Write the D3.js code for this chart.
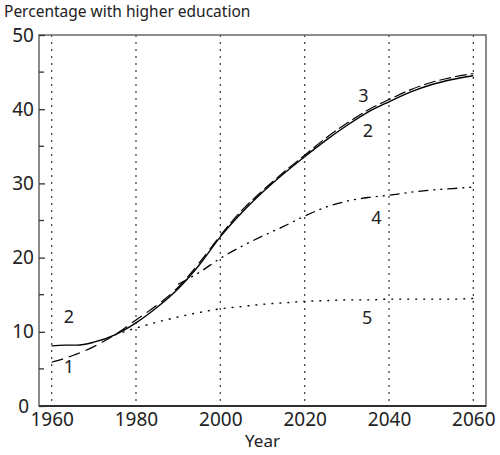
<!DOCTYPE html>
<html><head><meta charset="utf-8">
<script src="https://cdn.jsdelivr.net/npm/d3@7"></script>
<style>body{margin:0;background:#fff;} text{font-family:"Noto Sans",sans-serif;fill:#222;}</style>
</head><body>
<svg id="c" width="500" height="455"></svg>
<script>
const title = "Percentage with higher education";
const xLabel = "Year";
const xTicks = [1960,1980,2000,2020,2040,2060];
const yTicks = [0,10,20,30,40,50];
const yMinor = [5,15,25,35,45];

const years1 = [1960,1965,1970,1975,1980,1985,1990,1995,2000];
const s1 = [5.9,6.8,8.0,9.6,11.6,13.6,16.0,19.3,23.0];
const years2 = [1960,1963,1966,1970,1975,1980,1985,1990,1995,2000,2005,2010,2015,2020,2025,2030,2035,2040,2045,2050,2055,2060];
const s2 = [8.1,8.2,8.2,8.6,9.6,11.2,13.3,15.8,19.0,22.8,26.0,28.8,31.3,33.6,35.8,37.8,39.6,41.0,42.3,43.3,44.0,44.5];
const years3 = [2000,2005,2010,2015,2020,2025,2030,2035,2040,2045,2050,2055,2060];
const s3 = [23.0,26.3,29.0,31.5,33.8,36.1,38.1,39.9,41.3,42.6,43.6,44.3,44.8];
const years4 = [1990,1995,2000,2005,2010,2015,2020,2025,2030,2035,2040,2045,2050,2055,2060];
const s4 = [16.4,18.0,19.9,21.5,22.9,24.2,25.6,26.8,27.6,28.1,28.4,28.8,29.1,29.3,29.5];
const years5 = [1975,1980,1985,1990,1995,2000,2005,2010,2015,2020,2025,2030,2035,2040,2045,2050,2055,2060];
const s5 = [9.6,10.5,11.3,12.0,12.6,13.1,13.4,13.7,13.9,14.1,14.2,14.3,14.3,14.4,14.4,14.4,14.4,14.5];

const seriesLabels = ["1","2","3","2","4","5"];
const labelYears = [1964.1,1964.1,2033.9,2035.0,2037.0,2034.8];
const labelValues = [5.4,12.1,41.9,37.2,25.5,12.0];

const L=39,R=486,T=35,B=406;
const svg=d3.select("#c");
const x=d3.scaleLinear().domain([1957,2063]).range([L,R]);
const y=d3.scaleLinear().domain([0,50]).range([B,T]);

// gridlines
svg.append("g").selectAll("line").data(xTicks).join("line")
 .attr("x1",d=>x(d)).attr("x2",d=>x(d)).attr("y1",T).attr("y2",B)
 .attr("stroke","#444").attr("stroke-width",1.3).attr("stroke-dasharray","2,5");

// frame
svg.append("rect").attr("x",L).attr("y",T).attr("width",R-L).attr("height",B-T)
 .attr("fill","none").attr("stroke","#666").attr("stroke-width",1.5);
svg.append("line").attr("x1",L).attr("x2",R).attr("y1",B).attr("y2",B).attr("stroke","#111").attr("stroke-width",1.5);

// y axis
const ya=svg.append("g").attr("transform",`translate(${L},0)`)
 .call(d3.axisLeft(y).tickValues(yTicks).tickSize(-6).tickPadding(5).tickFormat(d3.format("d")));
ya.select(".domain").remove();
ya.selectAll("line").attr("stroke","#333").attr("stroke-width",1.3);
ya.selectAll("text").style("font-size","19px").attr("fill","#222")
 .attr("dx",d=>d===0?-5:0);
svg.append("g").selectAll("line").data(yMinor).join("line")
 .attr("x1",L).attr("x2",L+5).attr("y1",d=>y(d)).attr("y2",d=>y(d)).attr("stroke","#333").attr("stroke-width",1.3);

// x axis
const xa=svg.append("g").attr("transform",`translate(0,${B})`)
 .call(d3.axisBottom(x).tickValues(xTicks).tickSize(0).tickPadding(6).tickFormat(d3.format("d")));
xa.select(".domain").remove();
xa.selectAll("text").style("font-size","19px").attr("fill","#222");

svg.append("text").attr("x",4).attr("y",17).style("font-size","15.5px").text(title);
svg.append("text").attr("x",(L+R)/2).attr("y",447).attr("text-anchor","middle").style("font-size","17px").text(xLabel);

const line=d3.line().x(d=>x(d[0])).y(d=>y(d[1])).curve(d3.curveMonotoneX);
const zip=(a,b)=>a.map((v,i)=>[v,b[i]]);
const series=[
 {d:zip(years5,s5),dash:"2,6",w:1.4},
 {d:zip(years4,s4),dash:"10,5,2,5,2,5",w:1.3},
 {d:zip(years1,s1),dash:"12,6",w:1.2},
 {d:zip(years3,s3),dash:"12,4",w:1.2},
 {d:zip(years2,s2),dash:null,w:1.4}
];
svg.append("g").selectAll("path").data(series).join("path")
 .attr("d",d=>line(d.d)).attr("fill","none").attr("stroke","#000")
 .attr("stroke-width",d=>d.w).attr("stroke-dasharray",d=>d.dash);

svg.append("g").selectAll("text").data(seriesLabels).join("text")
 .attr("x",(d,i)=>x(labelYears[i])).attr("y",(d,i)=>y(labelValues[i]))
 .attr("text-anchor","middle").attr("dominant-baseline","central")
 .style("font-size","18px").text(d=>d);
</script>
</body></html>
